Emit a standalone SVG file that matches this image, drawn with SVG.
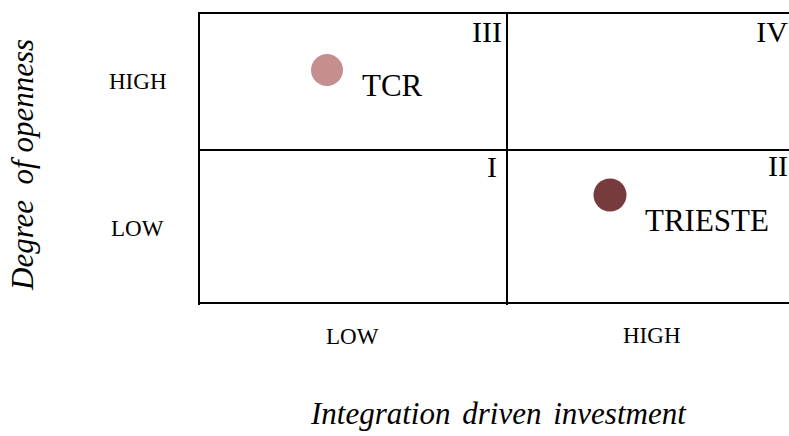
<svg xmlns="http://www.w3.org/2000/svg" width="789" height="436" viewBox="0 0 789 436">
  <style>
    .grid { stroke: #000; stroke-width: 2; fill: none; }
    .roman { font-family: "Liberation Serif", "Times New Roman", serif; font-size: 30px; fill: #000; text-anchor: end; }
    .name { font-family: "Liberation Serif", "Times New Roman", serif; font-size: 31px; fill: #000; }
    .tick { font-family: "Liberation Serif", "Times New Roman", serif; font-size: 23px; fill: #000; }
    .axis { font-family: "Liberation Serif", "Times New Roman", serif; font-size: 31px; font-style: italic; fill: #000; }
  </style>
  <rect width="789" height="436" fill="#fff"/>

  <!-- quadrant grid (right edge runs off the page) -->
  <g id="connectors">
    <line class="grid" x1="199" y1="13" x2="789" y2="13"/>
    <line class="grid" x1="199" y1="150" x2="789" y2="150"/>
    <line class="grid" x1="199" y1="303" x2="789" y2="303"/>
    <line class="grid" x1="199" y1="12" x2="199" y2="305"/>
    <line class="grid" x1="507" y1="12" x2="507" y2="305"/>
  </g>

  <!-- quadrant numerals -->
  <g id="quadrant-III"><text class="roman" x="502" y="42">III</text></g>
  <g id="quadrant-IV"><text class="roman" x="788" y="42">IV</text></g>
  <g id="quadrant-I"><text class="roman" x="497" y="177">I</text></g>
  <g id="quadrant-II"><text class="roman" x="788" y="176">II</text></g>

  <!-- plotted points -->
  <g id="node-tcr">
    <circle cx="327" cy="70" r="16" fill="#c48f8e"/>
    <text class="name" x="362" y="96">TCR</text>
  </g>
  <g id="node-trieste">
    <circle cx="610" cy="195" r="16.5" fill="#763b3c"/>
    <text class="name" x="645" y="231">TRIESTE</text>
  </g>

  <!-- axis levels -->
  <g id="y-high"><text class="tick" x="109" y="89">HIGH</text></g>
  <g id="y-low"><text class="tick" x="111" y="236">LOW</text></g>
  <g id="x-low"><text class="tick" x="326" y="344">LOW</text></g>
  <g id="x-high"><text class="tick" x="623" y="343">HIGH</text></g>

  <!-- axis titles -->
  <g id="y-title">
    <text class="axis" transform="translate(33,290) rotate(-90)" xml:space="preserve">Degree  of openness</text>
  </g>
  <g id="x-title">
    <text class="axis" x="311" y="424" word-spacing="4">Integration driven investment</text>
  </g>
</svg>
